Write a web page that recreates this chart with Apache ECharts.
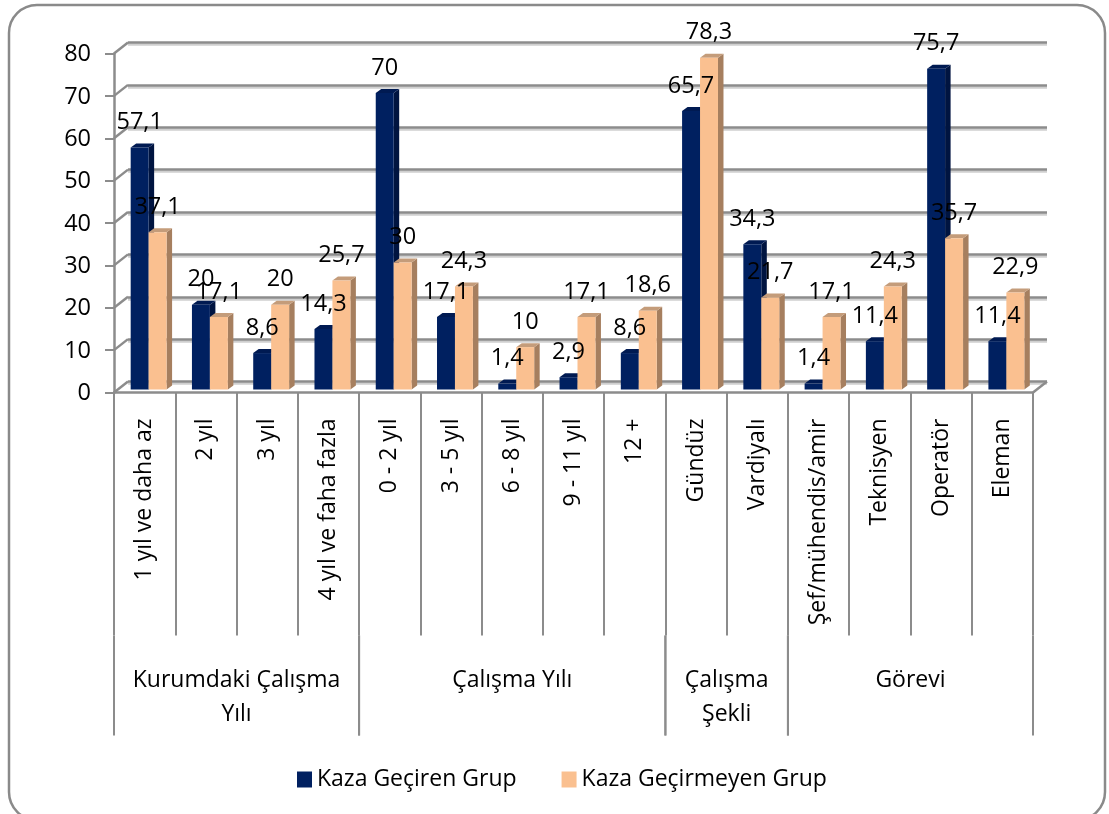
<!DOCTYPE html>
<html><head><meta charset="utf-8">
<style>html,body{margin:0;padding:0;background:#fff}#c{width:1109px;height:814px}</style>
<script src="https://cdn.jsdelivr.net/npm/echarts@6/dist/echarts.min.js"></script>
</head><body><div id="c"></div>
<script>
const categories = ['1 yıl ve daha az','2 yıl','3 yıl','4 yıl ve faha fazla','0 - 2 yıl','3 - 5 yıl','6 - 8 yıl','9 - 11 yıl','12 +','Gündüz','Vardiyalı','Şef/mühendis/amir','Teknisyen','Operatör','Eleman'];
const kazaGeciren = [57.1,20,8.6,14.3,70,17.1,1.4,2.9,8.6,65.7,34.3,1.4,11.4,75.7,11.4];
const kazaGecirmeyen = [37.1,17.1,20,25.7,30,24.3,10,17.1,18.6,78.3,21.7,17.1,24.3,35.7,22.9];
const groupNames = ['Kurumdaki Çalışma\nYılı','Çalışma Yılı','Çalışma\nŞekli','Görevi'];
const groupStarts = [0,4,9,11];
const groupEnds = [4,9,11,15];
const yTicks = [0,10,20,30,40,50,60,70,80];

const FONT = '"Open Sans", sans-serif';
const GRAY = '#8c8c8c';
const DX = 14, DY = -11;      // wall depth
const BX = 4, BY = -3;        // bar offset from front plane
const SX = 5.5, SY = -4;      // bar depth

function fmt(v){ return String(v).replace('.', ','); }

function bar3d(colors, side){
  return function(params, api){
    const i = api.value(0), v = api.value(1);
    const w = api.size([1,0])[0] * 0.293;
    const top = api.coord([i, v]), base = api.coord([i, 0]);
    const x0 = top[0] + BX + (side < 0 ? -w : 0), x1 = x0 + w;
    const yT = top[1] + BY, yB = base[1] + BY;
    return {type:'group', children:[
      {type:'polygon', shape:{points:[[x1,yT],[x1+SX,yT+SY],[x1+SX,yB+SY],[x1,yB]]}, style:{fill:colors[1]}},
      {type:'polygon', shape:{points:[[x0,yT],[x0+SX,yT+SY],[x1+SX,yT+SY],[x1,yT]]}, style:{fill:colors[2]}},
      {type:'rect', shape:{x:x0,y:yT,width:w,height:yB-yT}, style:{fill:colors[0]}}
    ]};
  };
}
function valueLabels(side){
  return function(params, api){
    const i = api.value(0), v = api.value(1);
    const w = api.size([1,0])[0] * 0.293;
    const p = api.coord([i, v]);
    return {type:'text', style:{text:fmt(v), x:p[0]+BX+side*w/2, y:p[1]+BY-25, align:'center', verticalAlign:'middle', fill:'#000', font:'23.5px '+FONT}};
  };
}
const NAVY = ['#002060','#001440','#001a52'];
const PEACH = ['#FAC090','#A67F5F','#C49C7A'];

const option = {
  animation:false,
  backgroundColor:'#fff',
  textStyle:{fontFamily:FONT},
  graphic:[{type:'rect', z:-10, silent:true, shape:{x:9,y:5,width:1096,height:815,r:28}, style:{fill:'#fff',stroke:'#8a8a8a',lineWidth:2.5}}],
  legend:{left:292, top:763, itemWidth:15, itemHeight:16, itemGap:45, icon:'rect',
    textStyle:{fontSize:23, color:'#000', fontFamily:FONT},
    data:[{name:'Kaza Geçiren Grup',itemStyle:{color:'#002060'}},{name:'Kaza Geçirmeyen Grup',itemStyle:{color:'#FAC090'}}]},
  grid:[
    {left:114, top:53.5, width:919, height:339},
    {left:114+DX, top:53.5+DY, width:919-DX+DX, height:339}
  ],
  xAxis:[
    {type:'category', gridIndex:0, data:categories, boundaryGap:true,
      axisLine:{lineStyle:{color:GRAY,width:2.5}},
      axisTick:{show:true, alignWithLabel:false, length:243, lineStyle:{color:GRAY,width:2}},
      axisLabel:{interval:0, rotate:90, margin:26, fontSize:23, color:'#000', fontFamily:FONT, hideOverlap:false}},
    {type:'category', gridIndex:1, data:categories, show:false}
  ],
  yAxis:[
    {type:'value', gridIndex:0, min:0, max:80, interval:10,
      axisLine:{show:true, lineStyle:{color:GRAY,width:2.5}},
      axisTick:{show:true, length:9, lineStyle:{color:GRAY,width:2}},
      axisLabel:{show:false},
      splitLine:{show:false}},
    {type:'value', gridIndex:1, min:0, max:80, interval:10,
      axisLine:{show:false}, axisTick:{show:false}, axisLabel:{show:false},
      splitLine:{show:true, lineStyle:{color:GRAY,width:2.5,shadowColor:'#cfcfcf',shadowOffsetY:2,shadowBlur:0}}}
  ],
  series:[
    {type:'custom', name:'walls', xAxisIndex:0, yAxisIndex:0, silent:true, clip:false, z:1,
      data:yTicks.map(v=>[v]), encode:{y:0},
      renderItem:function(p,api){
        const unit = api.size([1,0])[0];
        const v = api.value(0);
        const c = api.coord([0,v]);
        const l = c[0]-unit/2;
        const pts = [{x1:l,y1:c[1],x2:l+DX,y2:c[1]+DY}];
        if(v===0){
          const r = api.coord([categories.length-1,0])[0]+unit/2;
          pts.push({x1:r,y1:c[1],x2:r+DX,y2:c[1]+DY});
        }
        const kids = pts.map(s=>({type:'line',shape:s,style:{stroke:GRAY,lineWidth:2.5}}));
        kids.push({type:'text',style:{text:String(v),x:l-23,y:c[1]+1,align:'right',verticalAlign:'middle',fill:'#000',font:'23.5px '+FONT}});
        return {type:'group',children:kids};
      }},
    {type:'custom', name:'groups', xAxisIndex:0, yAxisIndex:0, silent:true, clip:false, z:1,
      data:groupNames.map((n,i)=>[groupStarts[i],groupEnds[i],n]),
      renderItem:function(p,api){
        const unit = api.size([1,0])[0];
        const s = api.coord([api.value(0),0]);
        const x0 = s[0]-unit/2, x1 = x0 + unit*(api.value(1)-api.value(0)), y = s[1];
        return {type:'group',children:[
          {type:'line',shape:{x1:x0,y1:y+243,x2:x0,y2:y+343},style:{stroke:GRAY,lineWidth:2}},
          {type:'line',shape:{x1:x1,y1:y+243,x2:x1,y2:y+343},style:{stroke:GRAY,lineWidth:2}},
          {type:'text',style:{text:groupNames[p.dataIndex],x:(x0+x1)/2,y:y+271,align:'center',verticalAlign:'top',fill:'#000',font:'23px '+FONT,lineHeight:34}}
        ]};
      }},
    {type:'custom', name:'Kaza Geçiren Grup', xAxisIndex:0, yAxisIndex:0, clip:false, z:3,
      itemStyle:{color:'#002060'}, data:kazaGeciren.map((v,i)=>[i,v]), encode:{x:0,y:1}, renderItem:bar3d(NAVY,-1)},
    {type:'custom', name:'Kaza Geçirmeyen Grup', xAxisIndex:0, yAxisIndex:0, clip:false, z:4,
      itemStyle:{color:'#FAC090'}, data:kazaGecirmeyen.map((v,i)=>[i,v]), encode:{x:0,y:1}, renderItem:bar3d(PEACH,1)},
    {type:'custom', name:'labelsA', xAxisIndex:0, yAxisIndex:0, clip:false, silent:true, z:6,
      data:kazaGeciren.map((v,i)=>[i,v]), encode:{x:0,y:1}, renderItem:valueLabels(-1)},
    {type:'custom', name:'labelsB', xAxisIndex:0, yAxisIndex:0, clip:false, silent:true, z:6,
      data:kazaGecirmeyen.map((v,i)=>[i,v]), encode:{x:0,y:1}, renderItem:valueLabels(1)}
  ]
};
echarts.init(document.getElementById('c'),null,{renderer:'canvas'}).setOption(option);
</script></body></html>
